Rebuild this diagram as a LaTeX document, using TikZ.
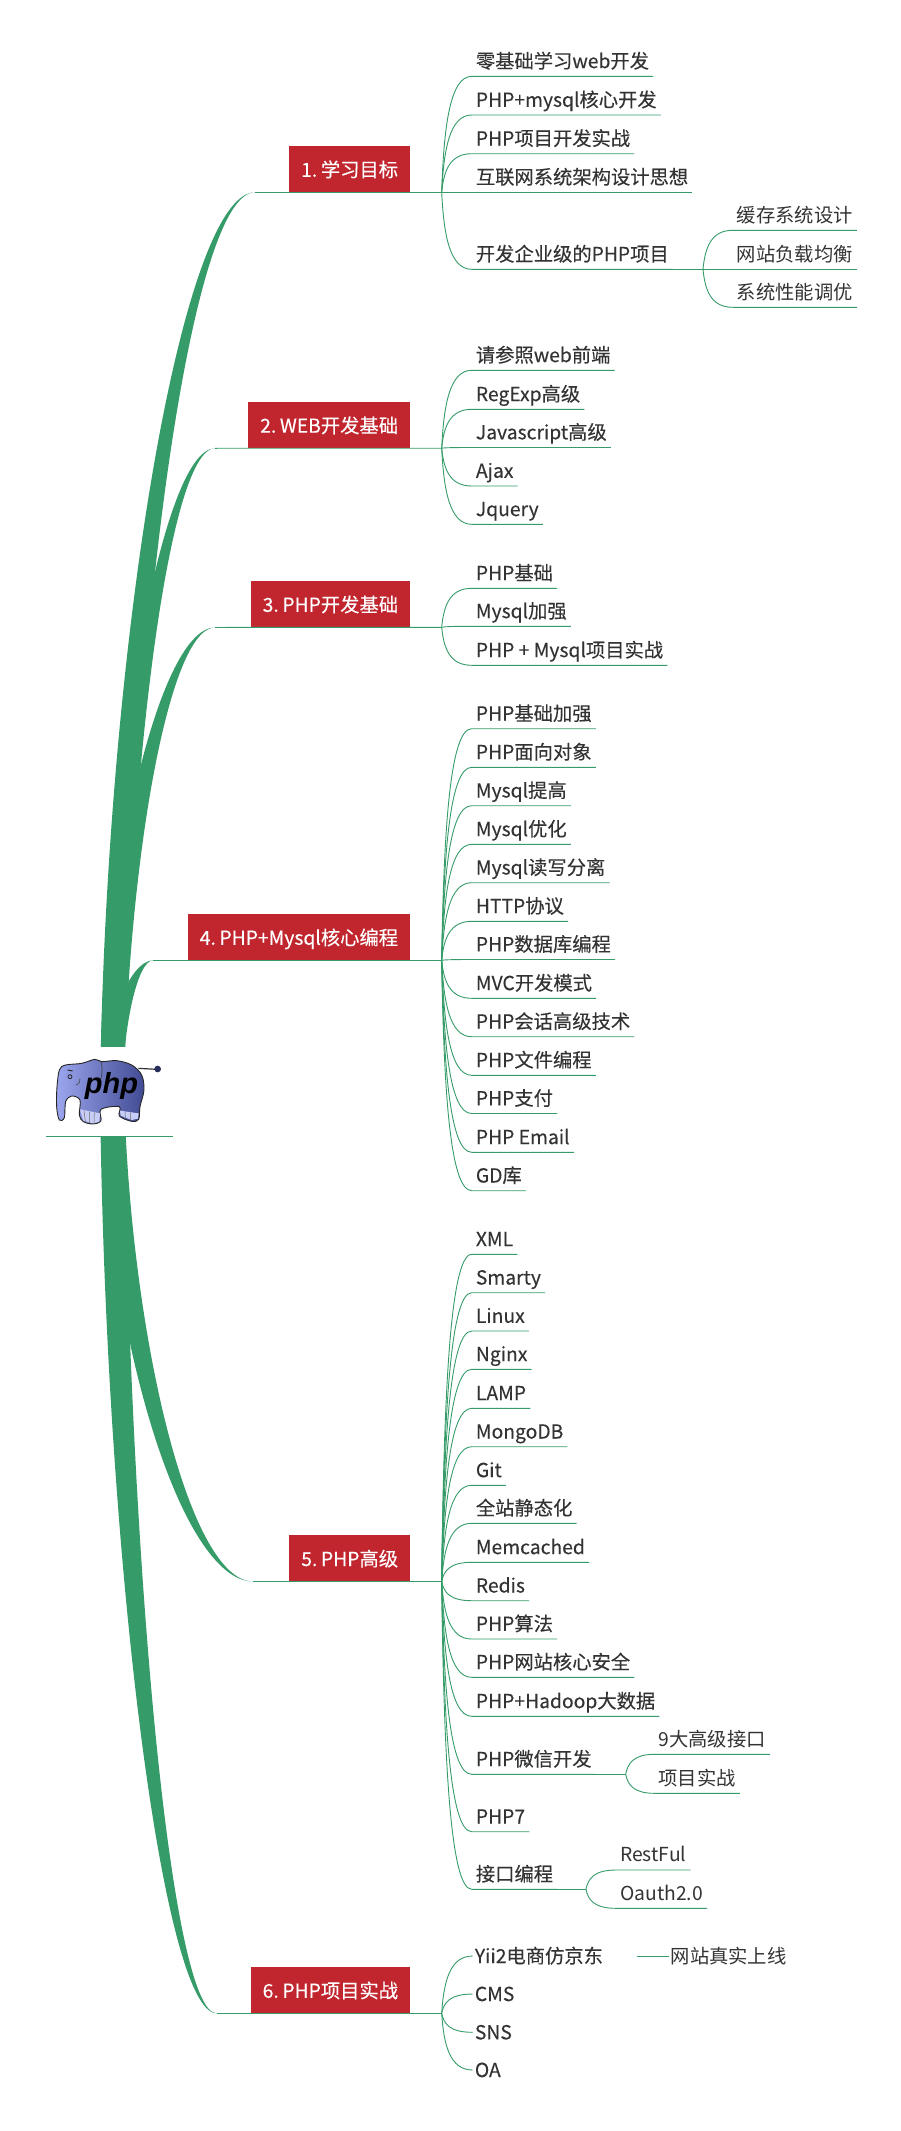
\documentclass[tikz,border=0pt]{standalone}
\usepackage{fontspec}
\setmainfont{Noto Sans CJK SC}
\newfontfamily\leaffont[FakeBold=0.25]{Noto Sans CJK SC}
\newfontfamily\logofont[BoldItalicFont={Liberation Sans Bold Italic}]{Liberation Sans}
\usetikzlibrary{calc}
\definecolor{limbgreen}{HTML}{359B68}
\definecolor{boxred}{HTML}{C1262E}
\definecolor{inkgray}{HTML}{333333}
\definecolor{hidelight}{HTML}{9BA6EE}
\definecolor{hidedark}{HTML}{414B94}
\def\limb[#1](#2)(#3){\fill[limbgreen] let \p1=(#2), \p2=(#3) in
	({\x1-#1pt},\y1) .. controls ({\x1+0.042*(\x2-\x1)-#1pt},{\y1+0.49*(\y2-\y1)}) and ({\x1+0.51*(\x2-\x1)-4pt},\y2) .. (\p2)
	.. controls ({\x1+0.51*(\x2-\x1)+4pt},\y2) and ({\x1+0.042*(\x2-\x1)+#1pt},{\y1+0.49*(\y2-\y1)}) .. ({\x1+#1pt},\y1) -- cycle;}
\def\bend(#1)(#2){let \p1=(#1), \p2=(#2) in (\p1) .. controls ({\x1+2pt},{\y1+0.55*(\y2-\y1)}) and ({\x1+8pt},\y2) .. (\p2)}
\def\twig(#1)(#2){\draw[wire] \bend(#1)(#2.south west) -- (#2.south east);}
\def\stem(#1)(#2){\draw[wire] \bend(#1)(#2.west);}
\tikzset{
	wire/.style={draw=limbgreen, line width=0.9pt},
	topbox/.style={anchor=south east, fill=boxred, text=white, inner xsep=12pt, inner ysep=0pt, text height=30.7pt, text depth=15.3pt, font=\leaffont\fontsize{19.3}{23}\selectfont, execute at begin node={\spaceskip=2.2pt\relax}},
	leaf/.style={anchor=south west, text=inkgray, inner xsep=4pt, inner ysep=0pt, text height=17pt, text depth=8pt, font=\leaffont\fontsize{19.3}{23}\selectfont},
	subleaf/.style={leaf, font=\fontsize{19.3}{23}\selectfont},
	bareleaf/.style={anchor=west, text=inkgray, inner xsep=2pt, inner ysep=0pt, text height=14pt, text depth=0pt, font=\leaffont\fontsize{19.3}{23}\selectfont},
	baresub/.style={bareleaf, font=\fontsize{19.3}{23}\selectfont},
}
\begin{document}
\begin{tikzpicture}[x=1pt, y=-1pt]
		%%%%% START %%%%%
		\useasboundingbox (0, 0) rectangle (900, 2131);
		
		\coordinate (trunk) at (112, 1090);
		\coordinate (end1) at (255, 192.3);
		\coordinate (end2) at (215, 448.3);
		\coordinate (end3) at (215, 627.5);
		\coordinate (end4) at (153.3, 960.3);
		\coordinate (end5) at (253.3, 1581.5);
		\coordinate (end6) at (216.7, 2013.3);
		\limb[12](trunk)(end1);
		\limb[12](trunk)(end2);
		\limb[12](trunk)(end3);
		\limb[10](trunk)(end4);
		\limb[12](trunk)(end5);
		\limb[12](trunk)(end6);
		
		\node[fill=white, minimum width=127pt, minimum height=89.3pt, inner sep=0pt] (root) at (109.5, 1091.6) {};
		\draw[wire] (root.south west) -- (root.south east);
		
		% elephant
		\begin{scope}[x=0.3333pt, y=-0.3333pt, yshift=-950pt]
			\draw[line width=1.2pt, color=black!80] (415, 355) -- (470, 358);
			\fill[color=hidedark!60!black] (473, 357) circle (10);
			\draw[left color=hidelight, right color=hidedark, draw=black!85, line width=0.9pt] plot[smooth cycle, tension=0.55] coordinates {(178, 510) (170, 470) (172, 400) (185, 350) (245, 340) (285, 328) (305, 335) (350, 332) (395, 345) (425, 375) (432, 420) (420, 470) (416, 508) (395, 514) (358, 498) (358, 470) (303, 478) (303, 512) (280, 522) (250, 515) (238, 495) (240, 450) (215, 438) (197, 455) (193, 503)};
			\fill[color=hidelight!55!white] (240, 478) -- (300, 490) -- (298, 515) -- (280, 520) -- (250, 512) -- cycle;
			\fill[color=hidelight!55!white] (360, 482) -- (416, 490) -- (414, 506) -- (395, 510) -- (362, 497) -- cycle;
			\draw[line width=0.5pt, color=black!60] (252, 482) -- (256, 514) (268, 485) -- (268, 518) (283, 488) -- (282, 520) (375, 485) -- (376, 502) (392, 487) -- (392, 510);
			\draw[line width=0.7pt, color=black!75] (303, 335) .. controls (310, 360) and (305, 385) .. (298, 395);
			\draw[line width=0.8pt, color=black!85] (210, 380) circle (6);
			\draw[line width=1pt, color=black!85] (203, 360) -- (218, 363);
			\draw[line width=0.7pt, color=black!70] (228, 405) .. controls (238, 402) and (242, 392) .. (240, 385);
		\end{scope}
		\node[inner sep=0pt, font=\logofont\bfseries\itshape\fontsize{29}{29}\selectfont] (logo) at (111.5, 1085.5) {php};
		
		%%% 1
		\node[topbox] (box1) at (410.3, 192.3) {1. 学习目标};
		\coordinate (hub1) at (441.7, 192.3);
		\draw[wire] (end1) -- (box1.south west) -- (box1.south east) -- (hub1);
		\node[leaf] (a1) at (471.7, 76.3) {零基础学习web开发};
		\node[leaf] (a2) at (471.7, 115) {PHP+mysql核心开发};
		\node[leaf] (a3) at (471.7, 153.7) {PHP项目开发实战};
		\node[leaf] (a4) at (471.7, 192.3) {互联网系统架构设计思想};
		\node[leaf] (a5) at (471.7, 269.3) {开发企业级的PHP项目};
		\twig(hub1)(a1);
		\twig(hub1)(a2);
		\twig(hub1)(a3);
		\twig(hub1)(a4);
		\twig(hub1)(a5);
		\coordinate (hub1e) at (703, 269.3);
		\draw[wire] (a5.south east) -- (hub1e);
		\node[subleaf] (a51) at (732.7, 230.3) {缓存系统设计};
		\node[subleaf] (a52) at (732.7, 269.3) {网站负载均衡};
		\node[subleaf] (a53) at (732.7, 307.3) {系统性能调优};
		\twig(hub1e)(a51);
		\twig(hub1e)(a52);
		\twig(hub1e)(a53);
		
		%%% 2
		\node[topbox] (box2) at (410.3, 448.2) {2. WEB开发基础};
		\coordinate (hub2) at (441.7, 448.2);
		\draw[wire] (end2) -- (box2.south west) -- (box2.south east) -- (hub2);
		\node[leaf] (b1) at (471.7, 370.3) {请参照web前端};
		\node[leaf] (b2) at (471.7, 409.3) {RegExp高级};
		\node[leaf] (b3) at (471.7, 447.5) {Javascript高级};
		\node[leaf] (b4) at (471.7, 486) {Ajax};
		\node[leaf] (b5) at (471.7, 524.3) {Jquery};
		\twig(hub2)(b1);
		\twig(hub2)(b2);
		\twig(hub2)(b3);
		\twig(hub2)(b4);
		\twig(hub2)(b5);
		
		%%% 3
		\node[topbox] (box3) at (410.3, 627.3) {3. PHP开发基础};
		\coordinate (hub3) at (441.7, 627.3);
		\draw[wire] (end3) -- (box3.south west) -- (box3.south east) -- (hub3);
		\node[leaf] (c1) at (471.7, 588.3) {PHP基础};
		\node[leaf] (c2) at (471.7, 626.3) {Mysql加强};
		\node[leaf] (c3) at (471.7, 665.3) {PHP + Mysql项目实战};
		\twig(hub3)(c1);
		\twig(hub3)(c2);
		\twig(hub3)(c3);
		
		%%% 4
		\node[topbox] (box4) at (410.3, 960.3) {4. PHP+Mysql核心编程};
		\coordinate (hub4) at (441.7, 960.3);
		\draw[wire] (end4) -- (box4.south west) -- (box4.south east) -- (hub4);
		\node[leaf] (d1) at (471.7, 728.7) {PHP基础加强};
		\node[leaf] (d2) at (471.7, 767.3) {PHP面向对象};
		\node[leaf] (d3) at (471.7, 805.7) {Mysql提高};
		\node[leaf] (d4) at (471.7, 844.3) {Mysql优化};
		\node[leaf] (d5) at (471.7, 882.7) {Mysql读写分离};
		\node[leaf] (d6) at (471.7, 921.3) {HTTP协议};
		\node[leaf] (d7) at (471.7, 959.5) {PHP数据库编程};
		\node[leaf] (d8) at (471.7, 998.3) {MVC开发模式};
		\node[leaf] (d9) at (471.7, 1036.7) {PHP会话高级技术};
		\node[leaf] (d10) at (471.7, 1075.3) {PHP文件编程};
		\node[leaf] (d11) at (471.7, 1113.5) {PHP支付};
		\node[leaf] (d12) at (471.7, 1152.3) {PHP Email};
		\node[leaf] (d13) at (471.7, 1190.7) {GD库};
		\twig(hub4)(d1);
		\twig(hub4)(d2);
		\twig(hub4)(d3);
		\twig(hub4)(d4);
		\twig(hub4)(d5);
		\twig(hub4)(d6);
		\twig(hub4)(d7);
		\twig(hub4)(d8);
		\twig(hub4)(d9);
		\twig(hub4)(d10);
		\twig(hub4)(d11);
		\twig(hub4)(d12);
		\twig(hub4)(d13);
		
		%%% 5
		\node[topbox] (box5) at (410.3, 1581.5) {5. PHP高级};
		\coordinate (hub5) at (441.7, 1581.5);
		\draw[wire] (end5) -- (box5.south west) -- (box5.south east) -- (hub5);
		\node[leaf] (e1) at (471.7, 1254.3) {XML};
		\node[leaf] (e2) at (471.7, 1292.7) {Smarty};
		\node[leaf] (e3) at (471.7, 1331) {Linux};
		\node[leaf] (e4) at (471.7, 1369.3) {Nginx};
		\node[leaf] (e5) at (471.7, 1408.3) {LAMP};
		\node[leaf] (e6) at (471.7, 1446.7) {MongoDB};
		\node[leaf] (e7) at (471.7, 1485.3) {Git};
		\node[leaf] (e8) at (471.7, 1523.3) {全站静态化};
		\node[leaf] (e9) at (471.7, 1562.3) {Memcached};
		\node[leaf] (e10) at (471.7, 1600.7) {Redis};
		\node[leaf] (e11) at (471.7, 1639) {PHP算法};
		\node[leaf] (e12) at (471.7, 1677.3) {PHP网站核心安全};
		\node[leaf] (e13) at (471.7, 1716.3) {PHP+Hadoop大数据};
		\node[leaf] (e14) at (471.7, 1774.3) {PHP微信开发};
		\node[leaf] (e15) at (471.7, 1831.7) {PHP7};
		\node[leaf] (e16) at (471.7, 1889.3) {接口编程};
		\twig(hub5)(e1);
		\twig(hub5)(e2);
		\twig(hub5)(e3);
		\twig(hub5)(e4);
		\twig(hub5)(e5);
		\twig(hub5)(e6);
		\twig(hub5)(e7);
		\twig(hub5)(e8);
		\twig(hub5)(e9);
		\twig(hub5)(e10);
		\twig(hub5)(e11);
		\twig(hub5)(e12);
		\twig(hub5)(e13);
		\twig(hub5)(e14);
		\twig(hub5)(e15);
		\twig(hub5)(e16);
		\coordinate (hub5w) at (625.7, 1774.3);
		\draw[wire] (e14.south east) -- (hub5w);
		\node[subleaf] (e141) at (654.3, 1754.3) {9大高级接口};
		\node[subleaf] (e142) at (654.3, 1793.3) {项目实战};
		\twig(hub5w)(e141);
		\twig(hub5w)(e142);
		\coordinate (hub5j) at (586, 1889.3);
		\draw[wire] (e16.south east) -- (hub5j);
		\node[subleaf] (e161) at (616, 1870) {RestFul};
		\node[subleaf] (e162) at (616, 1908.3) {Oauth2.0};
		\twig(hub5j)(e161);
		\twig(hub5j)(e162);
		
		%%% 6
		\node[topbox] (box6) at (410.3, 2013.3) {6. PHP项目实战};
		\coordinate (hub6) at (441.7, 2013.3);
		\draw[wire] (end6) -- (box6.south west) -- (box6.south east) -- (hub6);
		\node[bareleaf] (f1) at (472.7, 1956) {Yii2电商仿京东};
		\node[bareleaf] (f2) at (472.7, 1994) {CMS};
		\node[bareleaf] (f3) at (472.7, 2032.3) {SNS};
		\node[bareleaf] (f4) at (472.7, 2070) {OA};
		\stem(hub6)(f1);
		\stem(hub6)(f2);
		\stem(hub6)(f3);
		\stem(hub6)(f4);
		\coordinate (f1e) at (636.7, 1956);
		\node[baresub] (f11) at (668.5, 1956) {网站真实上线};
		\draw[wire] (f1e) -- (f11.west);
		
		%%%%% END %%%%%
	\end{tikzpicture}
\end{document}
